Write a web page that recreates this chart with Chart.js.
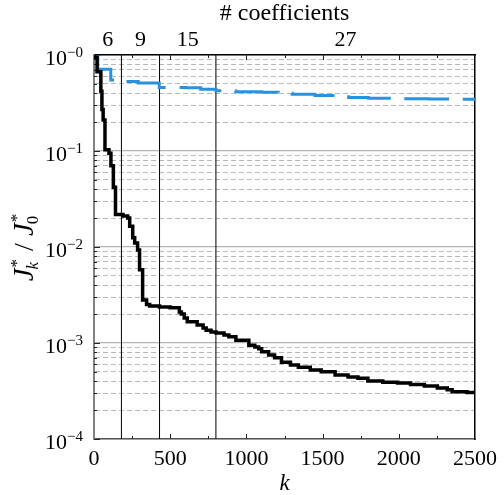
<!DOCTYPE html>
<html>
<head>
<meta charset="utf-8">
<script src="https://cdn.jsdelivr.net/npm/chart.js@4.4.0/dist/chart.umd.min.js"></script>
<style>
html,body{margin:0;padding:0;background:#fff;}
canvas{display:block;}
</style>
</head>
<body>
<canvas id="c" width="504" height="495"></canvas>
<script>
// values (step curves: value holds from k until the next k)
const blackK = [0, 6, 20, 45, 52, 60, 72, 98, 111, 127, 141, 190, 221, 234, 254, 267, 286, 299, 319, 345, 365, 430, 500, 560, 573, 592, 612, 677, 716, 736, 768, 801, 853, 885, 931, 1016, 1055, 1081, 1100, 1146, 1185, 1230, 1289, 1341, 1419, 1491, 1582, 1667, 1732, 1797, 1895, 1992, 2077, 2168, 2253, 2318, 2350, 2448, 2500];
const blackJ = [1.0, 0.95, 0.67, 0.42, 0.27, 0.21, 0.103, 0.095, 0.07, 0.042, 0.0218, 0.021, 0.0201, 0.0164, 0.0125, 0.011, 0.0093, 0.0058, 0.0028, 0.00252, 0.00243, 0.00237, 0.00233, 0.0021, 0.002, 0.00182, 0.00166, 0.00154, 0.00143, 0.00136, 0.0013, 0.00127, 0.00121, 0.00116, 0.00107, 0.00095, 0.00091, 0.00087, 0.00081, 0.00075, 0.0007, 0.00063, 0.00059, 0.00056, 0.000524, 0.000501, 0.000464, 0.000443, 0.00043, 0.000402, 0.00039, 0.000383, 0.00037, 0.000356, 0.00034, 0.000325, 0.00031, 0.000305, 0.000302];

const blueK = [0, 25, 110, 200, 290, 428, 600, 700, 800, 930, 1100, 1210, 1300, 1450, 1580, 1670, 1800, 1970, 2200, 2350, 2500];
const blueJ = [1.0, 0.71, 0.55, 0.53, 0.51, 0.46, 0.455, 0.44, 0.425, 0.415, 0.41, 0.40, 0.39, 0.378, 0.368, 0.36, 0.355, 0.35, 0.348, 0.346, 0.345];

const splitK = [180, 430, 800];            // vertical lines
const topTickK = [90, 305, 615, 1650];     // top axis label positions
const topTickLabels = ['6', '9', '15', '27'];
const yDecades = [0, -1, -2, -3, -4];
const xMin = 0, xMax = 2500, yMin = 1e-4, yMax = 1;

const SERIF = '"Liberation Serif", "DejaVu Serif", serif';
Chart.defaults.font.family = SERIF;
Chart.defaults.color = '#000';

function pts(ks, vs){ return ks.map((k, i) => ({x: k, y: vs[i]})); }
function isDecade(v){ const l = Math.log10(v); return Math.abs(l - Math.round(l)) < 1e-6; }

const yGridVals = [];
for (let e = -4; e < 0; e++) for (let m = 1; m < 10; m++) yGridVals.push(m * Math.pow(10, e));
yGridVals.push(1);

const decor = {
  id: 'decor',
  beforeDatasetsDraw(chart){
    const {ctx, chartArea: a, scales} = chart;
    const x = scales.x, y = scales.y;
    ctx.save();
    ctx.strokeStyle = '#222';
    ctx.lineWidth = 1;
    ctx.beginPath();
    for (let k = 250; k < xMax; k += 250){
      const px = Math.round(x.getPixelForValue(k)) + 0.5;
      const len = k % 500 === 0 ? 5 : 3;
      ctx.moveTo(px, a.bottom); ctx.lineTo(px, a.bottom - len);
      ctx.moveTo(px, a.top); ctx.lineTo(px, a.top + len);
    }
    yGridVals.forEach(v => {
      const py = Math.round(y.getPixelForValue(v)) + 0.5;
      const len = isDecade(v) ? 6 : 3;
      ctx.moveTo(a.left, py); ctx.lineTo(a.left + len, py);
    });
    ctx.stroke();
    ctx.restore();
  },
  afterDraw(chart){
    const {ctx, chartArea: a, scales} = chart;
    const y = scales.y;
    ctx.save();
    ctx.fillStyle = '#000';
    ctx.textAlign = 'left';
    ctx.textBaseline = 'alphabetic';
    // y tick labels 10^-n
    yDecades.forEach(e => {
      const py = y.getPixelForValue(Math.pow(10, e));
      const sup = '\u2212' + Math.abs(e);
      const right = a.left - 11;
      ctx.font = '15px ' + SERIF;
      const ws = ctx.measureText(sup).width;
      ctx.fillText(sup, right - ws, py + 2);
      ctx.font = '22px ' + SERIF;
      const wb = ctx.measureText('10').width;
      ctx.fillText('10', right - ws - wb, py + 10);
    });
    // y title  J*_k / J*_0
    const parts = [
      {main: 'J', sup: '*', sub: 'k'},
      {sep: ' / '},
      {main: 'J', sup: '*', sub: '0'}
    ];
    const bigF = 'italic 29px ' + SERIF, smallF = '17px ' + SERIF, subF = 'italic 17px ' + SERIF, sepF = '28px ' + SERIF;
    const widths = parts.map(p => {
      if (p.sep){ ctx.font = sepF; return ctx.measureText(p.sep).width; }
      ctx.font = bigF; const wm = ctx.measureText(p.main).width;
      ctx.font = smallF; const w1 = ctx.measureText(p.sup).width;
      ctx.font = p.sub === 'k' ? subF : smallF; const w2 = ctx.measureText(p.sub).width;
      return wm + Math.max(w1, w2) + 2;
    });
    const W = widths.reduce((s, w) => s + w, 0);
    ctx.translate(25, (a.top + a.bottom) / 2);
    ctx.rotate(-Math.PI / 2);
    let cx = -W / 2;
    const base = 8;
    parts.forEach((p, i) => {
      if (p.sep){ ctx.font = sepF; ctx.fillText(p.sep, cx, base); }
      else {
        ctx.font = bigF; ctx.fillText(p.main, cx, base);
        const wm = ctx.measureText(p.main).width;
        ctx.font = smallF; ctx.fillText(p.sup, cx + wm + 1, base - 11);
        ctx.font = p.sub === 'k' ? subF : smallF; ctx.fillText(p.sub, cx + wm - 1, base + 5);
      }
      cx += widths[i];
    });
    ctx.restore();
  }
};

new Chart(document.getElementById('c'), {
  type: 'line',
  data: {
    datasets: [
      {data: pts(blackK, blackJ), stepped: true, borderColor: '#000', borderWidth: 3.5, pointRadius: 0, fill: false, order: 0},
      {data: pts(blueK, blueJ), stepped: true, borderColor: '#2a92dc', borderWidth: 3, borderDash: [45, 14], pointRadius: 0, fill: false, order: 1}
    ].concat(splitK.map(k => ({
      data: [{x: k, y: yMin}, {x: k, y: yMax}],
      borderColor: '#000', borderWidth: 1, pointRadius: 0, fill: false, order: 2
    })))
  },
  options: {
    responsive: false,
    animation: false,
    devicePixelRatio: 1,
    layout: {padding: 0},
    plugins: {legend: {display: false}, tooltip: {enabled: false}},
    scales: {
      x: {
        type: 'linear', position: 'bottom', min: xMin, max: xMax,
        ticks: {stepSize: 500, padding: 7, maxRotation: 0, font: {size: 22}, callback: v => String(v)},
        grid: {drawOnChartArea: false, drawTicks: false},
        border: {color: '#555', width: 1.5},
        title: {display: true, text: 'k', font: {size: 23, style: 'italic', lineHeight: 1}, padding: 0},
        afterFit: s => { s.height = 56; }
      },
      x2: {
        type: 'linear', position: 'top', min: xMin, max: xMax,
        afterBuildTicks: s => { s.ticks = topTickK.map(v => ({value: v})); },
        ticks: {autoSkip: false, padding: 2, maxRotation: 0, font: {size: 22}, callback: (v, i) => topTickLabels[i]},
        grid: {drawOnChartArea: false, drawTicks: false},
        border: {color: '#000', width: 1.5},
        title: {display: true, text: '# coefficients', font: {size: 24, lineHeight: 1}, padding: {top: 2, bottom: 0}},
        afterFit: s => { s.height = 55; }
      },
      y: {
        type: 'logarithmic', position: 'left', min: yMin, max: yMax,
        afterBuildTicks: s => { s.ticks = yGridVals.map(v => ({value: v})); },
        ticks: {display: false},
        grid: {
          drawTicks: false,
          color: c => isDecade(c.tick.value) ? '#b3b3b3' : '#a6a6a6',
          lineWidth: c => isDecade(c.tick.value) ? 1.3 : 0.8
        },
        border: {color: '#808080', width: 2, dash: c => (c.tick && !isDecade(c.tick.value)) ? [5, 3] : []},
        afterFit: s => { s.width = 94; }
      },
      yr: {
        type: 'linear', position: 'right', min: 0, max: 1,
        ticks: {display: false},
        grid: {drawOnChartArea: false, drawTicks: false},
        border: {color: '#000', width: 1.5},
        afterFit: s => { s.width = 26; }
      }
    }
  },
  plugins: [decor]
});
</script>
</body>
</html>
